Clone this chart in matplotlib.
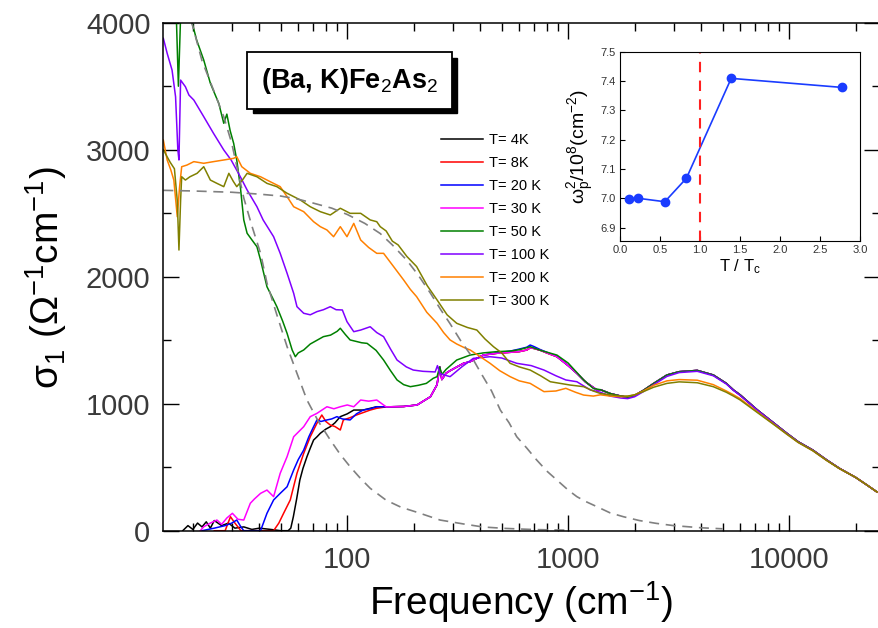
import matplotlib
matplotlib.use("Agg")
import matplotlib.pyplot as plt
import numpy as np
from matplotlib.patches import Rectangle
from matplotlib.ticker import LogLocator, NullFormatter, MultipleLocator, FormatStrFormatter

plt.rcParams["font.family"] = ["Liberation Sans", "DejaVu Sans"]
plt.rcParams["mathtext.fontset"] = "custom"
plt.rcParams["mathtext.rm"] = "Liberation Sans"
plt.rcParams["mathtext.it"] = "Liberation Sans:italic"
plt.rcParams["mathtext.bf"] = "Liberation Sans:bold"

# ---- data (frequency in cm^-1, sigma_1 in 1/(Ohm cm)) ----
# shared high-frequency part
f_hi = [1400, 1550, 1730, 1860, 2000, 2190, 2440, 2800, 3180, 3840, 4540, 5200,
        5600, 6000, 7190, 8500, 9770, 11000, 12800, 14800, 16900, 20000, 22500, 25000]
s_hi_lowT = [1110, 1080, 1060, 1050, 1065, 1105, 1160, 1226, 1252, 1262, 1226, 1160,
             1108, 1070, 950, 850, 767, 700, 635, 557, 491, 420, 360, 305]
s_hi_100 = [1090, 1060, 1045, 1040, 1055, 1095, 1150, 1215, 1245, 1255, 1220, 1155,
            1105, 1065, 948, 848, 765, 698, 633, 555, 490, 420, 360, 305]
s_hi_200 = [1070, 1060, 1055, 1058, 1070, 1100, 1145, 1180, 1190, 1185, 1150, 1100,
            1070, 1040, 935, 840, 760, 695, 630, 553, 489, 420, 360, 305]
s_hi_300 = [1080, 1070, 1060, 1060, 1070, 1095, 1130, 1160, 1172, 1165, 1134, 1090,
            1060, 1030, 930, 838, 760, 695, 630, 553, 489, 420, 360, 305]

# shared mid part of the superconducting-state curves
f_mid = [150, 180, 207, 238, 255, 262, 268, 280, 292, 336, 360, 413, 476, 550,
         600, 650, 673, 700, 750, 800, 889, 1000, 1095, 1200, 1350]
s_mid = [975, 978, 990, 1055, 1150, 1290, 1190, 1240, 1260, 1318, 1331, 1383, 1397,
         1405, 1410, 1423, 1440, 1435, 1420, 1400, 1370, 1300, 1239, 1170, 1108]
s_mid_blue = [975, 978, 990, 1055, 1150, 1290, 1190, 1240, 1260, 1318, 1331, 1383, 1400,
              1415, 1430, 1445, 1462, 1450, 1425, 1405, 1372, 1300, 1239, 1170, 1108]

f_4 = [18, 19, 20, 21, 22, 23, 24, 25, 27, 29, 31, 34, 37, 40, 45, 50, 54, 55.5, 57,
       59, 61, 63, 65.7, 68, 70.4, 73, 75.5, 80, 83.8, 88, 93, 100, 107, 118, 128, 136]
s_4 = [0, 40, 10, 60, 30, 70, 20, 80, 40, 60, 20, 30, 10, 20, 10, 0, 0, 20, 110,
       250, 399, 490, 583, 650, 714, 740, 767, 800, 819, 850, 898, 920, 950, 950, 965, 976]

f_8 = [25, 28, 29.6, 31, 33, 40, 46.4, 49, 51.5, 55.2, 59.2, 63.5, 68, 72.9, 76.7,
       80, 83.8, 88, 93, 96, 103, 110, 118, 127, 136]
s_8 = [0, 0, 110, 60, 0, 0, 0, 60, 137, 242, 452, 609, 740, 846, 911, 860, 832, 820,
       793, 872, 890, 911, 930, 950, 964]

f_20 = [22, 25, 28, 30, 31.6, 33, 34, 36, 40.5, 43.3, 46.4, 49.7, 53.4, 57.2, 60, 63.5,
        67, 70.4, 72.9, 76, 80.9, 85, 89.8, 95, 103, 110, 118, 127, 136]
s_20 = [0, 20, 40, 60, 84, 30, 0, 0, 0, 137, 242, 294, 346, 478, 560, 635, 740, 819,
        872, 860, 872, 880, 898, 880, 872, 920, 950, 960, 976]

f_30 = [21.6, 22.4, 24, 25.7, 27, 28.5, 30.2, 32, 34, 36.4, 38, 40.5, 43.3, 46.4, 49.7,
        53.4, 57.2, 63.5, 68, 72.9, 80.9, 87, 93, 100, 107, 115, 125, 136]
s_30 = [0, 31, 60, 84, 50, 100, 137, 90, 84, 216, 250, 294, 320, 268, 452, 583, 740,
        819, 898, 924, 976, 960, 976, 990, 976, 1029, 1020, 1029]

f_50 = [16, 16.8, 17.2, 17.6, 18, 18.5, 19.5, 20.8, 22.4, 24, 26.2, 27.6, 28.5, 29.5,
        30.6, 31.6, 32.8, 34, 35.2, 37, 39, 40.5, 43.3, 46, 48, 51, 53.4, 56.3, 58.2,
        60, 63.5, 68, 73, 78, 84, 90, 93, 98, 103, 110, 116, 123, 135, 146, 157, 168,
        180, 193, 210, 228, 245, 255, 262, 268, 280, 313, 360, 413, 476, 550, 600,
        673, 750, 889, 1000, 1175, 1300]
s_50 = [4200, 4100, 3500, 4050, 4100, 4100, 4050, 3864, 3706, 3523, 3365, 3208, 3280,
        3150, 3050, 2919, 2709, 2447, 2342, 2290, 2236, 2131, 1921, 1830, 1764, 1650,
        1554, 1423, 1370, 1400, 1423, 1470, 1500, 1528, 1540, 1570, 1594, 1545, 1502,
        1490, 1480, 1475, 1420, 1344, 1260, 1187, 1150, 1134, 1145, 1160, 1200, 1213,
        1290, 1230, 1270, 1344, 1383, 1400, 1410, 1415, 1425, 1449, 1420, 1383, 1320,
        1187, 1120]

f_100 = [14.7, 15.3, 16.1, 16.7, 17.1, 17.3, 17.6, 18.5, 19.2, 20.2, 22.4, 24.8, 27.6,
         29.8, 32.8, 35.2, 39, 41.6, 46.4, 49.7, 53.4, 57.2, 59.2, 63.5, 68, 72.9, 78,
         83.8, 89, 95, 99.7, 107, 115, 127, 136, 146, 157, 168, 185, 199, 220, 238,
         250, 256, 262, 270, 292, 330, 372, 443, 500, 585, 680, 777, 880, 976, 1095,
         1260]
s_100 = [3877, 3759, 3627, 3417, 3000, 2919, 3548, 3496, 3430, 3391, 3260, 3129, 2998,
         2919, 2787, 2683, 2551, 2447, 2315, 2184, 2027, 1869, 1764, 1712, 1700, 1725,
         1740, 1764, 1740, 1738, 1646, 1567, 1580, 1606, 1560, 1528, 1430, 1344, 1290,
         1265, 1255, 1252, 1250, 1300, 1240, 1230, 1213, 1290, 1357, 1370, 1360, 1318,
         1300, 1265, 1220, 1187, 1173, 1108]

f_200 = [14.7, 15.3, 15.9, 16.4, 17.0, 17.4, 17.8, 18.8, 20.2, 22.4, 24.8, 27.6, 30.6,
         31.6, 33.3, 36.4, 40.5, 44.8, 49.7, 53.4, 57.2, 63.5, 70.4, 75.5, 80.9, 86.7,
         93, 99.7, 107, 115, 125, 136, 146, 162, 180, 193, 206, 229, 255, 273, 292,
         313, 340, 360, 400, 443, 490, 546, 600, 673, 777, 880, 976, 1080, 1175, 1300]
s_200 = [3076, 2919, 2840, 2761, 2472, 2700, 2866, 2879, 2906, 2893, 2906, 2919, 2932,
         2945, 2866, 2814, 2787, 2748, 2709, 2630, 2551, 2512, 2433, 2394, 2368, 2315,
         2394, 2315, 2420, 2289, 2230, 2184, 2184, 2080, 1974, 1900, 1843, 1720, 1633,
         1560, 1502, 1470, 1440, 1423, 1370, 1318, 1260, 1213, 1180, 1160, 1095, 1100,
         1121, 1090, 1068, 1060]

f_300 = [14.7, 15, 15.8, 16.5, 17.0, 17.3, 17.6, 17.8, 18.5, 19.4, 20.9, 22.4, 24, 25.7,
         27.6, 29.1, 30.5, 31.6, 33.5, 35.2, 39, 43.3, 48, 53.4, 61.3, 68, 75.5, 83.8,
         93, 103, 115, 127, 136, 141, 150, 160, 170, 186, 206, 230, 255, 283, 313, 350,
         386, 420, 459, 500, 546, 600, 673, 750, 830, 920, 1020, 1175, 1300]
s_300 = [3000, 2971, 2900, 2850, 2600, 2210, 2600, 2787, 2761, 2787, 2814, 2866, 2761,
         2735, 2709, 2814, 2750, 2709, 2760, 2814, 2787, 2735, 2709, 2657, 2604, 2551,
         2512, 2486, 2539, 2499, 2499, 2447, 2433, 2394, 2360, 2280, 2250, 2160, 2080,
         1930, 1817, 1700, 1633, 1600, 1580, 1510, 1449, 1400, 1318, 1290, 1265, 1220,
         1173, 1160, 1147, 1134, 1100]

# Drude fits (gray dashed)
f_drude_n = [18.5, 20, 22, 24.8, 27.6, 30, 34, 37, 40.5, 43.3, 48, 53.4, 59.2, 65.7, 74,
             83.8, 93, 103, 115, 127, 150, 175, 207, 263, 336, 412, 520, 700, 1000]
s_drude_n = [4150, 3969, 3700, 3470, 3260, 3050, 2620, 2400, 2184, 1950, 1700, 1449,
             1239, 1029, 860, 714, 600, 504, 410, 334, 240, 185, 145, 84, 53, 29, 18, 9, 4]
f_drude_w = [14.7, 20, 30, 40, 50, 60, 70, 85, 100, 120, 141, 160, 186, 210, 238, 265,
             292, 325, 360, 400, 450, 493, 540, 585, 650, 720, 800, 889, 1000, 1095,
             1200, 1350, 1550, 1780, 2100, 2500, 3000, 4000, 5000]
s_drude_w = [2680, 2675, 2665, 2650, 2635, 2610, 2580, 2540, 2490, 2420, 2340, 2250,
             2130, 2010, 1870, 1740, 1630, 1500, 1390, 1250, 1100, 950, 850, 740, 650,
             557, 470, 399, 320, 268, 230, 189, 140, 110, 80, 58, 40, 23, 15]

# inset: plasma frequency squared vs reduced temperature
t_red = [0.11, 0.22, 0.56, 0.83, 1.39, 2.78]
wp2 = [6.998, 7.0, 6.988, 7.068, 7.409, 7.378]

labels = ["T= 4K", "T= 8K", "T= 20 K", "T= 30 K", "T= 50 K", "T= 100 K", "T= 200 K", "T= 300 K"]
colors = ["#000000", "#ff0000", "#0000ff", "#ff00ff", "#008000", "#8000ff", "#ff8000", "#808000"]

lowT = [(f_4, s_4, f_mid, s_mid), (f_8, s_8, f_mid, s_mid),
        (f_20, s_20, f_mid, s_mid_blue), (f_30, s_30, f_mid, s_mid)]
curves = []
for f_lo, s_lo, fm, sm in lowT:
    curves.append((f_lo + fm + f_hi, s_lo + sm + s_hi_lowT))
curves.append((f_50 + f_hi, s_50 + s_hi_lowT))
curves.append((f_100 + f_hi, s_100 + s_hi_100))
curves.append((f_200 + f_hi, s_200 + s_hi_200))
curves.append((f_300 + f_hi, s_300 + s_hi_300))

fig = plt.figure(figsize=(8.79, 6.28), dpi=100)
ax = fig.add_axes([163 / 879, 1 - 530.7 / 628, 717 / 879, 508 / 628])

for (fx, sy), c, lab in zip(curves, colors, labels):
    ax.plot(fx, sy, color=c, lw=1.1, label=lab)
ax.plot(f_drude_n, s_drude_n, color="#808080", lw=1.2, ls=(0, (6, 4)))
ax.plot(f_drude_w, s_drude_w, color="#808080", lw=1.2, ls=(0, (6, 4)))

ax.set_xscale("log")
ax.set_xlim(14.65, 25800)
ax.set_ylim(0, 4000)
ax.set_xticks([100, 1000, 10000])
ax.set_xticklabels(["100", "1000", "10000"])
ax.xaxis.set_minor_locator(LogLocator(base=10, subs=np.arange(2, 10)))
ax.xaxis.set_minor_formatter(NullFormatter())
ax.set_yticks([0, 1000, 2000, 3000, 4000])
ax.yaxis.set_minor_locator(MultipleLocator(500))
ax.tick_params(which="both", direction="in", top=True, right=True, width=1.0,
               labelsize=21, labelcolor="#3a3a3a")
ax.tick_params(which="major", length=11.5)
ax.tick_params(which="minor", length=5.8)
ax.tick_params(axis="x", pad=11)
ax.tick_params(axis="y", pad=9)
for sp in ax.spines.values():
    sp.set_linewidth(1.1)

fig.text(521 / 879, 1 - 602 / 628, "Frequency (cm$^{-1}$)", fontsize=28,
         ha="center", va="center")
fig.text(46 / 879, 1 - 278 / 628, r"$\mathrm{σ_1\ (Ω^{-1}cm^{-1})}$", fontsize=28,
         rotation=90, ha="center", va="center")

ax.legend(loc="upper left", bbox_to_anchor=(0.3873, 0.783), frameon=False,
          borderpad=0, borderaxespad=0, fontsize=10.5, handlelength=2.9,
          handletextpad=0.4, labelspacing=0.62)

# sample name box with shadow
fig.patches.append(Rectangle((253 / 879, 1 - 113.3 / 628), 203.7 / 879, 55.3 / 628,
                             transform=fig.transFigure, fc="black", ec="black", zorder=5))
fig.patches.append(Rectangle((247.3 / 879, 1 - 109.3 / 628), 204.4 / 879, 57.6 / 628,
                             transform=fig.transFigure, fc="white", ec="black", lw=1.3,
                             zorder=6))
fig.text(349.5 / 879, 1 - 81 / 628, r"(Ba, K)Fe$_2$As$_2$", fontsize=19.5,
         fontweight="bold", ha="center", va="center", zorder=7)

# inset
axi = fig.add_axes([620 / 879, 1 - 240.7 / 628, 240 / 879, 189 / 628])
axi.plot(t_red, wp2, color="#1a3cff", lw=1.2, marker="o", ms=6,
         mfc="#1a3cff", mec="#1a3cff")
axi.axvline(1.0, color="#ff2020", lw=1.5, ls=(0, (5, 4)))
axi.set_xlim(0, 3.0)
axi.set_ylim(6.855, 7.5)
axi.xaxis.set_major_locator(MultipleLocator(0.5))
axi.yaxis.set_major_locator(MultipleLocator(0.1))
axi.xaxis.set_major_formatter(FormatStrFormatter("%.1f"))
axi.yaxis.set_major_formatter(FormatStrFormatter("%.1f"))
axi.tick_params(direction="in", length=3.5, width=0.8, labelsize=8,
                labelcolor="#333333", pad=3)
axi.set_xlabel(r"$\mathrm{T\ /\ T_c}$", fontsize=12, labelpad=2)
axi.set_ylabel(r"$\mathrm{ω_p^2/10^8(cm^{-2})}$", fontsize=14, labelpad=3)

fig.savefig("out.png", dpi=100)
